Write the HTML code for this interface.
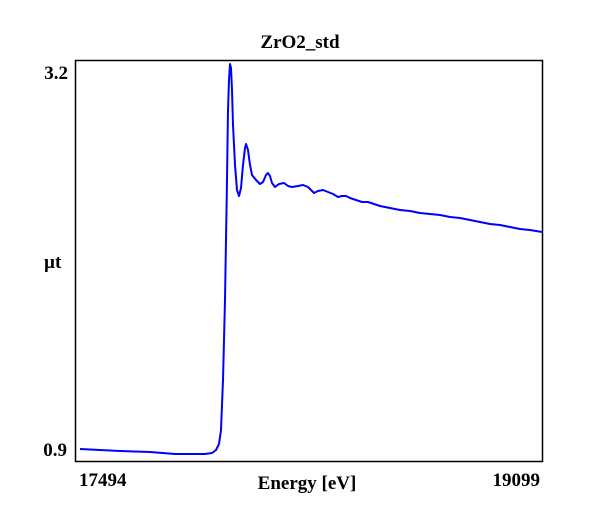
<!DOCTYPE html>
<html><head><style>
body{margin:0;background:#fff;}
svg text{font-family:"Liberation Serif",serif;font-weight:bold;font-size:19px;fill:#000;}
</style></head><body>
<svg width="600" height="520" xmlns="http://www.w3.org/2000/svg">
<rect x="75.5" y="60.5" width="467" height="401" fill="none" stroke="#000" stroke-width="1.5"/>
<text x="300" y="48" text-anchor="middle">ZrO2_std</text>
<text x="68" y="79" text-anchor="end">3.2</text>
<text x="67" y="456" text-anchor="end">0.9</text>
<text x="44" y="268">µt</text>
<text x="79" y="486">17494</text>
<text x="540" y="486" text-anchor="end">19099</text>
<text x="307" y="489" text-anchor="middle">Energy [eV]</text>
<polyline fill="none" stroke="#0000ff" stroke-width="2" stroke-linejoin="round" points="80,449 100,450 120,451 150,452 175,454 190,454 205,454 212,453 216,450 219,444 221,430 223,380 225,300 226,240 227,180 228,110 229,80 230,64 231,68 232,90 233,125 235,165 237,190 239,196 241,188 243,165 245,148 246,144 248,150 250,165 252,175 256,180 260,184 263,182 266,175 268,173 270,176 272,183 275,187 279,184 284,183 288,186 292,187 298,186 303,185 308,187 311,190 314,193 318,191 323,190 328,192 333,194 338,197 342,196 346,196 350,198 356,200 362,202 368,202 374,204 380,206 390,208 400,210 410,211 420,213 430,214 440,215 450,217 460,218 470,220 480,222 490,224 500,225 510,227 520,229 530,230 542,232"/>
</svg>
</body></html>
